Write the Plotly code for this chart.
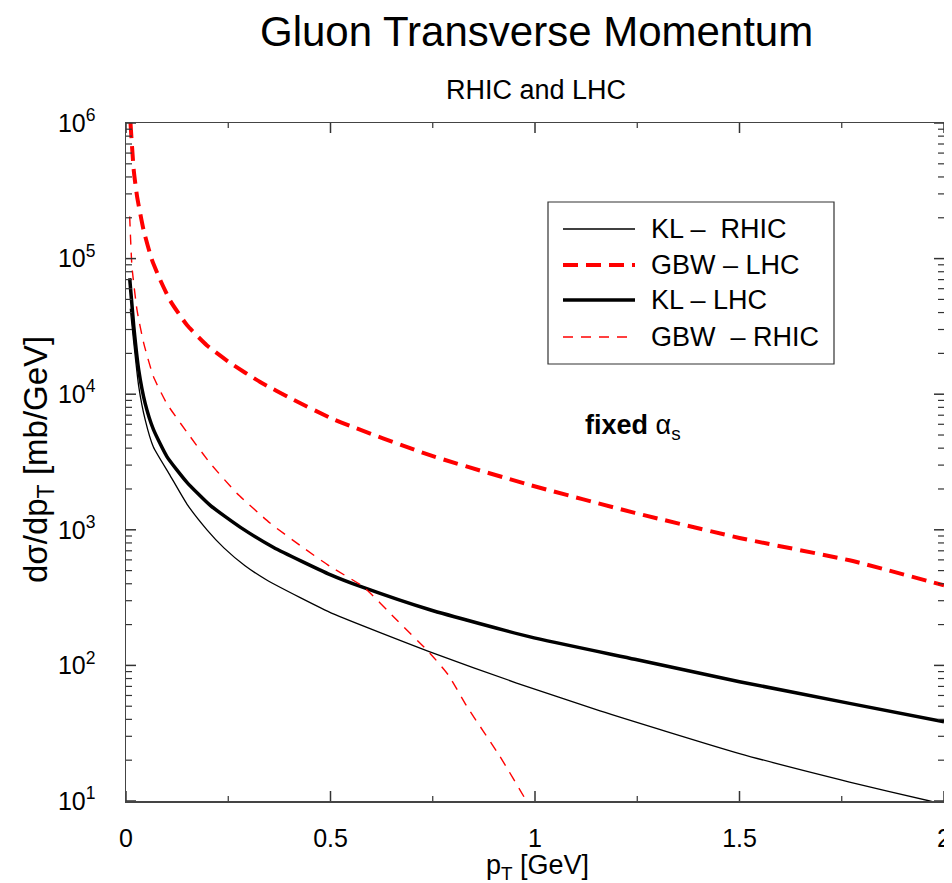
import plotly.graph_objects as go

# ---- data ----
gbw_lhc_x = [0.011, 0.019, 0.027, 0.043, 0.0635, 0.084, 0.108, 0.149, 0.198, 0.255, 0.328, 0.409, 0.511,
             0.743, 0.988, 1.244, 1.50, 1.769, 2.0]
gbw_lhc_logy = [6.0, 5.65, 5.46, 5.21, 4.99, 4.84, 4.69, 4.51, 4.36, 4.23, 4.09, 3.96, 3.81,
                3.55, 3.33, 3.125, 2.94, 2.775, 2.59]

kl_lhc_x = [0.009, 0.019, 0.031, 0.047, 0.067, 0.100, 0.149, 0.206, 0.279, 0.361, 0.499, 0.580,
            0.743, 0.988, 1.244, 1.50, 1.769, 2.0]
kl_lhc_logy = [4.855, 4.50, 4.18, 3.93, 3.74, 3.54, 3.35, 3.18, 3.02, 2.87, 2.67, 2.575,
               2.41, 2.21, 2.045, 1.88, 1.72, 1.585]

kl_rhic_x = [0.0105, 0.019, 0.031, 0.047, 0.067, 0.108, 0.149, 0.198, 0.240, 0.291, 0.344, 0.426, 0.507,
             0.743, 0.955, 1.159, 1.50, 1.769, 1.965, 2.0]
kl_rhic_logy = [4.63, 4.38, 4.06, 3.81, 3.61, 3.40, 3.19, 3.00, 2.865, 2.735, 2.63, 2.50, 2.38,
                2.10, 1.87, 1.665, 1.35, 1.14, 1.0, 0.975]

gbw_rhic_x = [0.009, 0.0146, 0.027, 0.043, 0.067, 0.100, 0.149, 0.206, 0.271, 0.352, 0.430, 0.499,
              0.580, 0.662, 0.743, 0.788, 0.833, 0.914, 0.979, 1.0]
gbw_rhic_logy = [5.31, 4.94, 4.62, 4.38, 4.13, 3.93, 3.72, 3.49, 3.27, 3.05, 2.875, 2.73,
                 2.58, 2.335, 2.09, 1.93, 1.70, 1.33, 1.0, 0.88]

series_names = ["KL –  RHIC", "GBW – LHC", "KL – LHC", "GBW  – RHIC"]

x_ticks = [0, 0.5, 1, 1.5, 2]
x_tick_labels = ["0", "0.5", "1", "1.5", "2"]
x_minor_ticks = [0.25, 0.75, 1.25, 1.75]

y_ticks = [1e1, 1e2, 1e3, 1e4, 1e5, 1e6]
y_tick_labels = ["10<sup>1</sup>", "10<sup>2</sup>", "10<sup>3</sup>",
                 "10<sup>4</sup>", "10<sup>5</sup>", "10<sup>6</sup>"]
y_minor_ticks = [m * d for d in [1e1, 1e2, 1e3, 1e4, 1e5] for m in range(2, 10)]

# ---- figure geometry (page body adds an 8px offset) ----
OFF = 8
W, H = 952 - OFF, 883 - OFF
L, T = 126 - OFF, 123 - OFF
R = W - (944 - OFF)
B = H - (801 - OFF)
PW, PH = W - L - R, H - T - B


def px(xs_):
    return (xs_ - OFF - L) / PW


def py(ys_):
    return (H - B - (ys_ - OFF)) / PH


FONT = "Liberation Sans, Arial, Helvetica, sans-serif"

styles = [
    dict(color="black", width=1.3, dash="solid"),
    dict(color="#ff0000", width=4, dash="15px,8px"),
    dict(color="black", width=3.5, dash="solid"),
    dict(color="#ff0000", width=1.4, dash="10px,8px"),
]
xs = [kl_rhic_x, gbw_lhc_x, kl_lhc_x, gbw_rhic_x]
ys = [kl_rhic_logy, gbw_lhc_logy, kl_lhc_logy, gbw_rhic_logy]

fig = go.Figure()
for name, x, ly, st in zip(series_names, xs, ys, styles):
    fig.add_trace(go.Scatter(
        x=x, y=[10 ** v for v in ly], mode="lines", name=name,
        line=dict(color=st["color"], width=st["width"], dash=st["dash"], shape="spline", smoothing=0.5),
        showlegend=False,
    ))

# ---- tick marks on all four sides (positions via the axes' own scales, lengths in px) ----
TICKC = "#333"
for vals, ln, wd in [(x_ticks, 10, 1.5), (x_minor_ticks, 5, 1.2)]:
    for v in vals:
        for anchor, sgn in [(0, 1), (1, -1)]:
            fig.add_shape(type="line", xref="x", yref="paper", ysizemode="pixel", yanchor=anchor,
                          x0=v, x1=v, y0=0, y1=sgn * ln, layer="above",
                          line=dict(color=TICKC, width=wd))
for vals, ln, wd in [(y_ticks, 10, 1.5), (y_minor_ticks, 6, 1.2)]:
    for v in vals:
        for anchor, sgn in [(0, 1), (1, -1)]:
            fig.add_shape(type="line", yref="y", xref="paper", xsizemode="pixel", xanchor=anchor,
                          y0=v, y1=v, x0=0, x1=sgn * ln, layer="above",
                          line=dict(color=TICKC, width=wd))

# custom legend (box, sample lines, labels)
lx0, lx1, ly0, ly1 = 548, 834, 202, 364
fig.add_shape(type="rect", xref="paper", yref="paper",
              x0=px(lx0), x1=px(lx1), y0=py(ly1), y1=py(ly0),
              line=dict(color="#333", width=1.2), fillcolor="white", layer="above")
row_y = [229, 265, 300, 337]
for name, st, ry in zip(series_names, styles, row_y):
    fig.add_shape(type="line", xref="paper", yref="paper",
                  x0=px(563), x1=px(635), y0=py(ry), y1=py(ry),
                  line=dict(color=st["color"], width=st["width"], dash=st["dash"]), layer="above")
    fig.add_annotation(xref="paper", yref="paper", x=px(649), y=py(ry), text=name,
                       showarrow=False, xanchor="left", yanchor="middle",
                       font=dict(family=FONT, size=27, color="black"))

# titles
fig.add_annotation(xref="paper", yref="paper", x=px(536), y=py(31), text="Gluon Transverse Momentum",
                   showarrow=False, xanchor="center", yanchor="middle",
                   font=dict(family=FONT, size=42, color="black"))
fig.add_annotation(xref="paper", yref="paper", x=px(536), y=py(90), text="RHIC and LHC",
                   showarrow=False, xanchor="center", yanchor="middle",
                   font=dict(family=FONT, size=27, color="black"))

# axis titles
fig.add_annotation(xref="paper", yref="paper", x=px(537), y=py(867), text="p<sub>T</sub> [GeV]",
                   showarrow=False, xanchor="center", yanchor="middle",
                   font=dict(family=FONT, size=27, color="black"))
fig.add_annotation(xref="paper", yref="paper", x=px(38), y=py(460), text="dσ/dp<sub>T</sub> [mb/GeV]",
                   showarrow=False, xanchor="center", yanchor="middle", textangle=-90,
                   font=dict(family=FONT, size=33, color="black"))

# fixed alpha_s label
fig.add_annotation(xref="paper", yref="paper", x=px(583), y=py(427),
                   text="<b>fixed</b> α<sub>s</sub>", showarrow=False,
                   xanchor="left", yanchor="middle",
                   font=dict(family=FONT, size=27, color="black"))

base = dict(showgrid=False, zeroline=False, automargin=False,
            showline=True, linecolor="#444", linewidth=1.5, mirror=True, ticks="",
            tickfont=dict(family=FONT, size=25, color="black"))

fig.update_layout(
    width=W, height=H,
    margin=dict(l=L, r=R, t=T, b=B, pad=0),
    paper_bgcolor="white", plot_bgcolor="white",
    showlegend=False, dragmode=False, hovermode=False,
    font=dict(family=FONT, color="black"),
    xaxis=dict(range=[0, 2], tickvals=x_ticks, ticktext=x_tick_labels,
               ticklabelstandoff=14, fixedrange=True, **base),
    yaxis=dict(type="log", range=[1, 6], tickvals=y_ticks, ticktext=y_tick_labels,
               ticklabelstandoff=24, fixedrange=True, **base),
)

fig.write_html("out.html", config={"staticPlot": True, "displayModeBar": False})
